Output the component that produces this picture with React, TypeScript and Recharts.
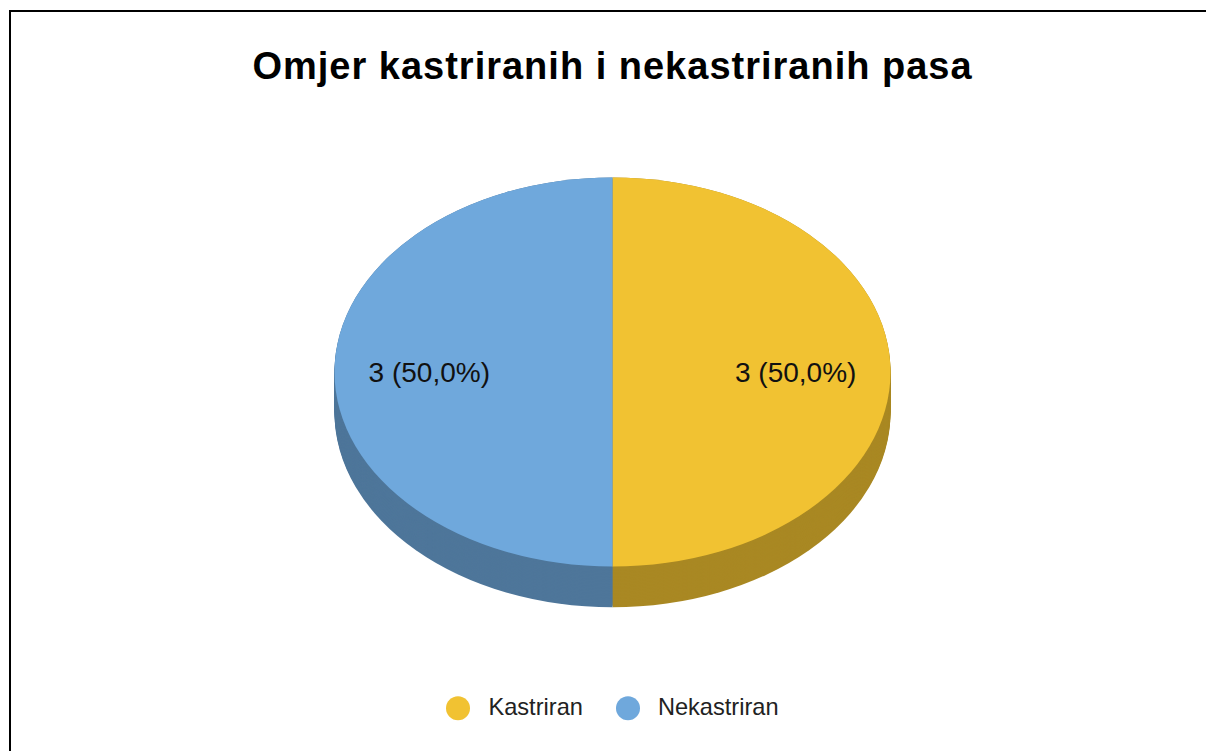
import React from "react";
import { PieChart, Pie, Cell, Legend } from "recharts";

const categories = ["Kastriran", "Nekastriran"];
const counts = [3, 3];
const topColors = ["#F1C232", "#6FA8DC"];
const sideColors = ["#A98823", "#4E769A"];
const title = "Omjer kastriranih i nekastriranih pasa";

const data = categories.map((name, i) => ({ name, value: counts[i] }));

// 3D look: the pie is drawn round, then the chart box is squashed vertically
const SQUASH = 0.7;
const RADIUS = 278;
const CX = 612.5;
const CY = 300;
const DEPTH = 58; // unscaled px
const CHART_TOP = 161.5;
const CHART_H = 850;
const depthSteps = Array.from({ length: 30 }, (_, i) => DEPTH - (i * DEPTH) / 29);

const FONT = "'Liberation Sans', Arial, Helvetica, sans-serif";
const RAD = Math.PI / 180;

function renderLabel(props: any) {
  const { cx, cy, midAngle, outerRadius, value, percent } = props;
  const r = outerRadius * 0.659;
  const x = cx + r * Math.cos(-midAngle * RAD);
  const y = cy + r * Math.sin(-midAngle * RAD);
  const pct = (percent * 100).toFixed(1).replace(".", ",");
  return (
    <text
      transform={`translate(${x},${y}) scale(1,${1 / SQUASH})`}
      textAnchor="middle"
      dominantBaseline="central"
      fontFamily={FONT}
      fontSize={28}
      fill="#111"
    >
      {`${value} (${pct}%)`}
    </text>
  );
}

function LegendContent({ payload }: any) {
  const seen = new Map<string, string>();
  (payload ?? []).forEach((p: any) => {
    if (p.type !== "none") seen.set(p.value, p.color);
  });
  const items = categories
    .filter((c) => seen.has(c))
    .map((c) => ({ name: c, color: seen.get(c) as string }));
  return (
    <div
      style={{
        display: "flex",
        justifyContent: "center",
        alignItems: "center",
        transform: `scaleY(${1 / SQUASH})`,
        fontFamily: FONT,
        fontSize: 23.6,
        color: "#222",
      }}
    >
      {items.map((it) => (
        <div key={it.name} style={{ display: "flex", alignItems: "center", margin: "0 16px 0 17px" }}>
          <span
            style={{
              width: 24,
              height: 24,
              borderRadius: 12,
              background: it.color,
              marginRight: 18,
              display: "inline-block",
            }}
          />
          <span>{it.name}</span>
        </div>
      ))}
    </div>
  );
}

export default function App() {
  return (
    <div
      style={{
        position: "absolute",
        left: 0,
        top: 0,
        width: 1206,
        height: 751,
        overflow: "hidden",
        background: "#fff",
      }}
    >
      <div
        style={{
          position: "absolute",
          left: 9,
          top: 10,
          width: 1300,
          height: 800,
          borderLeft: "2px solid #000",
          borderTop: "2px solid #000",
        }}
      />
      <div
        style={{
          position: "absolute",
          left: 0,
          width: 1225,
          top: 43.5,
          textAlign: "center",
          fontFamily: FONT,
          fontWeight: "bold",
          fontSize: 38,
          letterSpacing: 1,
          lineHeight: "44px",
          color: "#000",
        }}
      >
        {title}
      </div>
      <div
        style={{
          position: "absolute",
          left: 0,
          top: CHART_TOP,
          width: 1206,
          height: CHART_H,
          transform: `scaleY(${SQUASH})`,
          transformOrigin: "top left",
        }}
      >
        <PieChart width={1206} height={CHART_H} margin={{ top: 0, right: 0, bottom: 0, left: 0 }}>
          {depthSteps.map((d, k) => (
            <Pie
              key={`side-${k}`}
              data={data}
              dataKey="value"
              nameKey="name"
              cx={CX}
              cy={CY + d}
              outerRadius={RADIUS}
              startAngle={90}
              endAngle={-270}
              stroke="none"
              legendType="none"
              isAnimationActive={false}
            >
              {data.map((_, i) => (
                <Cell key={i} fill={sideColors[i]} />
              ))}
            </Pie>
          ))}
          <Pie
            data={data}
            dataKey="value"
            nameKey="name"
            cx={CX}
            cy={CY}
            outerRadius={RADIUS}
            startAngle={90}
            endAngle={-270}
            stroke="none"
            label={renderLabel}
            labelLine={false}
            legendType="circle"
            isAnimationActive={false}
          >
            {data.map((_, i) => (
              <Cell key={i} fill={topColors[i]} />
            ))}
          </Pie>
          <Legend
            content={<LegendContent />}
            wrapperStyle={{ top: 766, left: 9, width: 1206 }}
          />
        </PieChart>
      </div>
    </div>
  );
}
